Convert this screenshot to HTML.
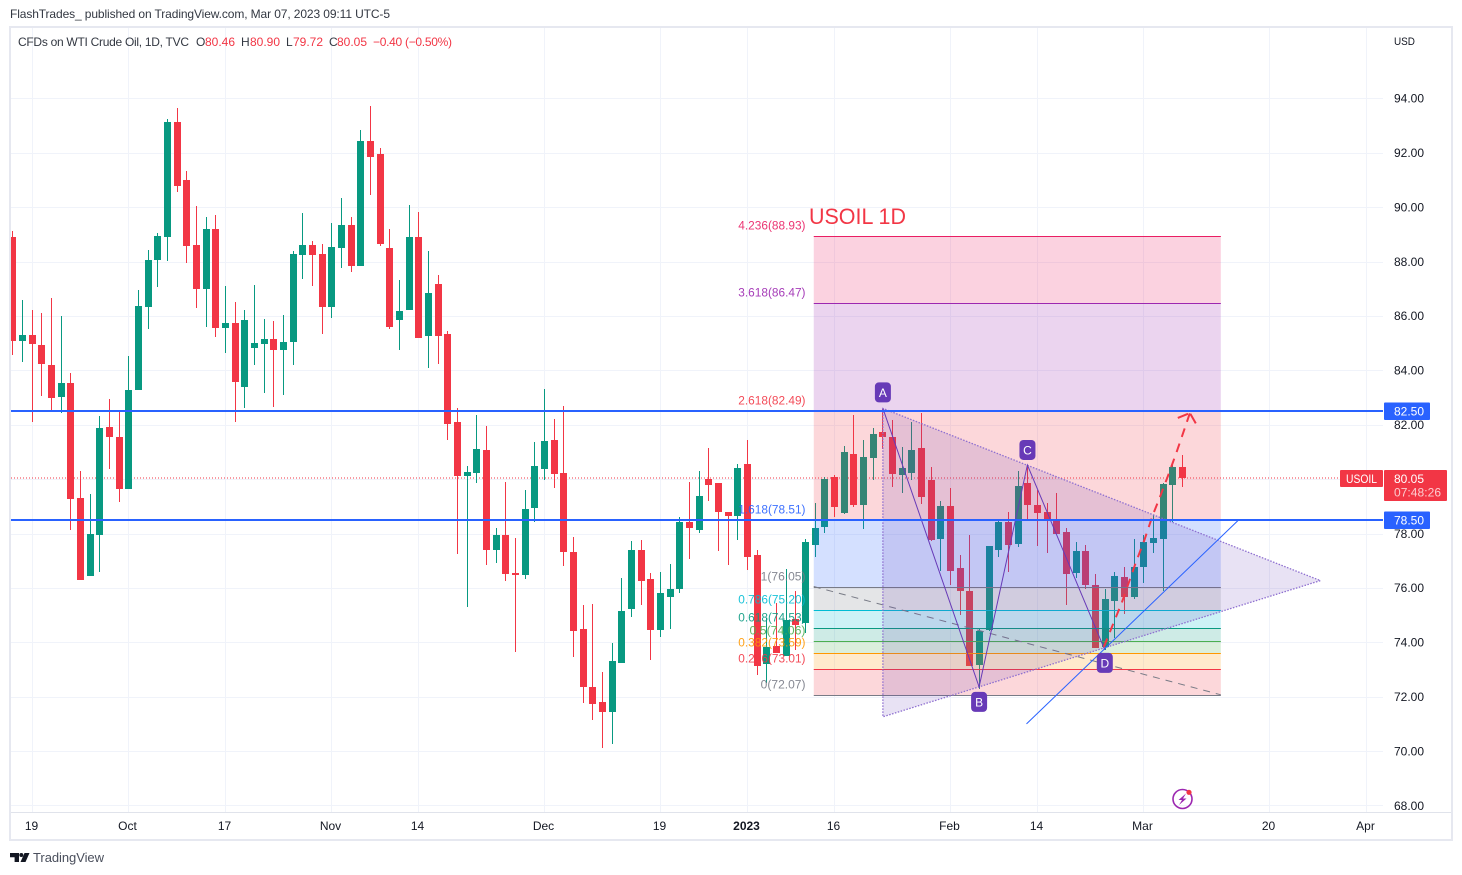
<!DOCTYPE html>
<html lang="en">
<head>
<meta charset="utf-8">
<title>USOIL 1D chart</title>
<style>
html,body{margin:0;padding:0;background:#fff;width:1462px;height:875px;overflow:hidden}
svg{position:absolute;left:0;top:0;display:block}
text{font-family:"Liberation Sans",sans-serif}
</style>
</head>
<body>
<svg id="chart" width="1462" height="875" viewBox="0 0 1462 875" xmlns="http://www.w3.org/2000/svg">
  <defs><clipPath id="plot-clip"><rect x="11" y="28" width="1372" height="784"/></clipPath></defs>
  <rect x="0" y="0" width="1462" height="875" fill="#ffffff"/>
  <text x="10" y="18" font-size="12" fill="#333842" textLength="380" lengthAdjust="spacing">FlashTrades_ published on TradingView.com, Mar 07, 2023 09:11 UTC-5</text>
  <g id="grid"></g>
  <g id="plot" clip-path="url(#plot-clip)">
    <g id="candles"></g>
    <g id="fib"></g>
    <g id="pattern"></g>
    <g id="hlines"></g>
  </g>
  <text x="809" y="224" font-size="22" fill="#f23645" textLength="97" lengthAdjust="spacingAndGlyphs">USOIL 1D</text>
  <g id="axis"></g>
  <g id="time"></g>
  <g fill="none" stroke="#e6e8f0" stroke-width="2">
    <rect x="10" y="27" width="1442" height="813"/>
  </g>
  <g font-size="12">
    <text x="18" y="46" fill="#333842" textLength="171" lengthAdjust="spacing">CFDs on WTI Crude Oil, 1D, TVC</text>
    <text x="196" y="46" fill="#333842">O</text>
    <text x="205" y="46" fill="#f23645">80.46</text>
    <text x="241" y="46" fill="#333842">H</text>
    <text x="250" y="46" fill="#f23645">80.90</text>
    <text x="286" y="46" fill="#333842">L</text>
    <text x="293" y="46" fill="#f23645">79.72</text>
    <text x="329" y="46" fill="#333842">C</text>
    <text x="337" y="46" fill="#f23645">80.05</text>
    <text x="373" y="46" fill="#f23645" textLength="79" lengthAdjust="spacing">−0.40 (−0.50%)</text>
  </g>
  <text x="1394" y="45" font-size="11" fill="#131722" textLength="21" lengthAdjust="spacingAndGlyphs">USD</text>
  <g>
    <circle cx="1182.5" cy="799" r="9.5" fill="none" stroke="#9c27b0" stroke-width="1.6"/>
    <path d="M1186 793.5l-7.5 6.5h3.5l-3 5 7.5-6.5h-3.5z" fill="#9c27b0"/>
    <circle cx="1189" cy="792.3" r="2.6" fill="#f23645"/>
  </g>
  <g>
    <path d="M10 853h9v9h-4.4v-4.8H10z" fill="#131722"/>
    <circle cx="21.3" cy="855" r="2" fill="#131722"/>
    <path d="M24.5 853h5l-4 9h-5z" fill="#131722"/>
    <text x="33" y="862" font-size="13" fill="#4a4f5c" textLength="71" lengthAdjust="spacing">TradingView</text>
  </g>
</svg>
<script>
var opens=[88.90,85.08,85.30,84.93,84.20,83.02,83.53,79.30,76.44,77.94,81.91,81.55,79.64,83.28,86.33,88.06,88.90,93.13,91.00,88.61,86.99,89.19,85.55,85.74,83.39,84.82,84.97,85.15,84.75,85.04,88.24,88.61,88.28,86.33,88.50,89.34,87.83,92.43,91.95,88.50,85.85,86.22,88.90,85.26,87.17,85.33,82.10,80.11,80.22,81.07,77.39,77.94,76.55,76.47,78.94,80.37,81.44,80.22,77.32,74.49,72.36,71.80,71.44,73.24,75.23,77.39,76.33,74.45,75.67,75.96,78.42,78.13,80.00,79.86,78.79,78.64,80.55,77.21,73.20,73.86,73.49,74.86,74.71,77.58,78.24,80.08,78.75,80.92,79.05,80.78,81.73,81.55,80.15,80.22,81.14,79.97,77.80,79.01,76.73,75.90,73.17,74.45,77.39,78.42,77.61,79.86,79.05,78.79,78.50,78.05,76.55,77.36,76.11,73.83,75.52,76.40,75.67,76.77,77.65,77.80,79.78,80.46];
var highs=[89.12,86.58,86.22,86.11,86.66,86.00,83.90,80.30,79.45,82.32,82.94,82.47,84.53,86.95,88.42,89.05,93.24,93.64,91.33,90.04,89.64,89.71,87.10,86.51,86.22,87.14,85.89,85.81,86.03,88.39,89.78,88.75,88.64,89.42,90.33,89.64,92.83,93.72,92.17,89.19,87.32,90.08,89.82,88.40,87.50,85.44,82.61,80.48,82.36,81.95,78.20,79.89,77.83,79.60,81.36,83.31,82.21,82.69,77.87,75.37,75.41,72.91,73.97,76.36,77.73,77.76,76.55,76.59,76.88,78.61,79.89,80.30,81.14,79.86,78.79,80.55,81.44,77.39,74.88,75.45,76.68,75.88,77.80,79.12,80.08,80.15,81.22,82.36,81.44,81.88,82.58,82.17,81.18,82.10,82.43,80.44,79.19,79.67,77.21,77.94,74.49,77.54,78.46,78.79,80.30,80.52,79.60,79.12,79.49,78.20,77.69,77.58,76.51,75.96,76.58,76.77,77.80,77.95,78.68,79.86,80.59,80.90];
var lows=[84.56,84.30,82.10,83.05,82.54,82.43,78.13,76.29,76.44,76.58,80.37,79.16,79.64,83.28,85.52,87.06,88.02,90.55,87.95,86.29,85.59,85.22,84.64,82.10,82.61,84.20,83.17,82.65,83.09,84.20,87.36,87.10,85.33,85.92,87.76,87.61,87.83,90.44,88.57,85.52,84.75,86.22,85.19,84.10,84.23,81.44,77.25,75.30,79.86,76.84,76.92,76.25,73.64,76.33,78.42,79.97,79.67,76.81,73.46,71.77,71.14,70.12,70.26,73.24,74.93,75.37,73.35,74.20,74.49,75.81,77.06,78.02,79.19,77.36,76.84,77.76,76.66,72.80,72.50,73.61,73.49,73.72,74.33,77.14,78.02,78.61,78.72,78.97,78.17,79.97,81.10,79.71,79.49,79.97,79.08,77.72,76.62,76.11,75.00,73.13,72.28,74.42,77.14,76.58,77.50,78.50,77.54,77.28,77.98,75.37,76.36,75.96,73.79,73.72,74.16,75.04,75.59,76.18,77.28,75.89,78.42,79.72];
var closes=[85.08,85.30,84.97,84.23,82.98,83.53,79.27,76.29,77.98,81.88,81.55,79.64,83.28,86.36,88.06,88.94,93.13,90.78,88.57,86.99,89.19,85.55,85.74,83.57,85.85,85.00,85.15,84.75,85.04,88.28,88.61,88.24,86.33,88.53,89.34,87.83,92.43,91.84,88.64,85.59,86.18,88.90,85.19,86.84,85.26,82.03,80.11,80.26,81.11,77.39,77.94,76.51,76.47,78.90,80.48,81.40,80.19,77.32,74.42,72.36,71.73,71.44,73.31,75.15,77.39,76.25,74.45,75.81,75.96,78.42,78.20,79.38,79.78,78.79,78.64,80.41,77.14,73.13,73.83,73.61,74.82,74.63,77.69,78.20,80.00,78.97,80.99,79.05,80.81,81.66,81.55,80.20,80.41,81.07,79.34,77.76,79.01,76.62,75.90,73.13,74.42,77.54,78.42,77.58,79.75,79.05,78.75,78.50,77.98,76.51,77.36,76.11,73.79,75.59,76.44,75.67,76.77,77.69,77.83,79.82,80.45,80.05];
var priceTicks=[94,92,90,88,86,84,82,80,78,76,74,72,70,68];
var timeTickBars=[2,12,22,33,42,55,67,76,85,97,106,117,130,140];
var timeTickLabels=["19","Oct","17","Nov","14","Dec","19","2023","16","Feb","14","Mar","20","Apr"];
var fibRatios=["4.236","3.618","2.618","1.618","1","0.786","0.618","0.5","0.382","0.236","0"];
var fibPrices=[88.93,86.47,82.49,78.51,76.05,75.20,74.53,74.06,73.59,73.01,72.07];
var fibColors=["#e91e63","#9c27b0","#f23645","#2962ff","#787b86","#00bcd4","#089981","#4caf50","#ff9800","#f23645","#787b86"];
var fibStartBar=82.9;
var fibEndBar=125;
var abcdLabels=["A","B","C","D"];
var abcdBars=[90.05,100,105,113];
var abcdPrices=[82.6,72.36,80.52,73.72];
var triangleBars=[90.05,90.05,135.3];
var trianglePrices=[82.6,71.26,76.27];
var trendBars=[104.9,126.85];
var trendPrices=[71.0,78.5];
var arrowBars=[112.9,114.75,116.2,117.1,117.96,118.7,119.5,120.4,121.1,121.8];
var arrowPrices=[73.83,75.45,76.92,77.76,78.68,79.34,80.08,80.96,81.69,82.43];
var arrowHeadBars=[120.55,121.8,122.5];
var arrowHeadPrices=[82.25,82.43,81.99];
var levelPrices=[82.50,78.50];
var lastPrice=80.05;
var countdown="07:48:26";

var NS="http://www.w3.org/2000/svg";
function xScale(i){return 12.2+9.669*i;}
function yScale(p){return 98.3+(94-p)*27.2;}
function mk(tag,parent,attrs,txt){
  var e=document.createElementNS(NS,tag);
  for(var k in attrs){e.setAttribute(k,attrs[k]);}
  if(txt!==undefined){e.textContent=txt;}
  parent.appendChild(e);
  return e;
}
function pts(bars,prices){
  return bars.map(function(b,i){return xScale(b).toFixed(1)+","+yScale(prices[i]).toFixed(1);}).join(" ");
}
var gridG=document.getElementById("grid");
var candlesG=document.getElementById("candles");
var fibG=document.getElementById("fib");
var patG=document.getElementById("pattern");
var hG=document.getElementById("hlines");
var axisG=document.getElementById("axis");
var timeG=document.getElementById("time");
var el;

priceTicks.forEach(function(p){
  var y=Math.round(yScale(p));
  el=mk("rect",gridG,{x:11,y:y,width:1372,height:1,fill:"#f0f3fa"});
  
  
});
timeTickBars.forEach(function(b){
  var x=Math.round(xScale(b));
  el=mk("rect",gridG,{x:x,y:28,width:1,height:784,fill:"#f0f3fa"});
  
  
});

el=mk("line",candlesG,{x1:11,x2:1340,y1:yScale(lastPrice)+0.2,y2:yScale(lastPrice)+0.2,stroke:"#f23645","stroke-width":1,"stroke-dasharray":"1 2"});



opens.forEach(function(o,i){
  var c=closes[i],up=c>=o,col=up?"#089981":"#f23645";
  var x=Math.round(xScale(i));
  var top=Math.round(yScale(Math.max(o,c)));
  var bot=Math.round(yScale(Math.min(o,c)));
  var hi=Math.round(yScale(highs[i]));
  var lo=Math.round(yScale(lows[i]));
  var g=mk("g",candlesG,{});
  
  
  var w=mk("rect",g,{x:x,y:hi,width:1,height:Math.max(1,lo-hi),fill:col});
  
  
  var b=mk("rect",g,{x:x-3,y:top,width:7,height:Math.max(1,bot-top),fill:col});
  
  
});

var fx0=xScale(fibStartBar),fx1=xScale(fibEndBar);
fibPrices.forEach(function(p,i){
  var y=Math.round(yScale(p));
  if(i<fibPrices.length-1){
    var y2=Math.round(yScale(fibPrices[i+1]));
    el=mk("rect",fibG,{x:fx0,y:y,width:fx1-fx0,height:y2-y,fill:fibColors[i],"fill-opacity":0.2});
    
    
  }
});
fibPrices.forEach(function(p,i){
  var y=Math.round(yScale(p))+0.5;
  el=mk("line",fibG,{x1:fx0,x2:fx1,y1:y,y2:y,stroke:fibColors[i],"stroke-width":1});
  
  
});
el=mk("line",fibG,{x1:fx0,x2:fx1,y1:yScale(fibPrices[4]),y2:yScale(fibPrices[10]),stroke:"#787b86","stroke-width":1,"stroke-dasharray":"7 6"});



el=mk("polygon",patG,{points:pts(triangleBars,trianglePrices),fill:"#673ab7","fill-opacity":0.15,stroke:"#8e6fd0","stroke-width":1.3,"stroke-dasharray":"1.5 1.5"});


el=mk("polyline",patG,{points:pts(abcdBars,abcdPrices),fill:"none",stroke:"#673ab7","stroke-width":1});


el=mk("polyline",patG,{points:pts(trendBars,trendPrices),fill:"none",stroke:"#2962ff","stroke-width":1});


el=mk("polyline",patG,{points:pts(arrowBars,arrowPrices),fill:"none",stroke:"#f23645","stroke-width":2,"stroke-dasharray":"9 7"});


el=mk("polyline",patG,{points:pts(arrowHeadBars,arrowHeadPrices),fill:"none",stroke:"#f23645","stroke-width":2,"stroke-dasharray":"11 3"});



levelPrices.forEach(function(p){
  var y=Math.round(yScale(p))-1;
  el=mk("rect",hG,{x:11,y:y,width:1372,height:2,fill:"#2962ff"});
  
  
});

var svg=document.getElementById("chart");
var labG=mk("g",svg,{});


fibRatios.forEach(function(r,i){
  var y=Math.round(yScale(fibPrices[i]));
  el=mk("text",labG,{x:805.5,y:y-6.5,"text-anchor":"end","font-size":11.5,fill:fibColors[i],"fill-opacity":0.9,textLength:(r.length+7)*5.6,lengthAdjust:"spacingAndGlyphs"},r+"("+fibPrices[i].toFixed(2)+")");
  
  
});
var labelOffsets=[-16,15,-15,13];
abcdLabels.forEach(function(l,i){
  var cx=xScale(abcdBars[i]),cy=yScale(abcdPrices[i])+labelOffsets[i];
  el=mk("rect",labG,{x:cx-8,y:cy-10,width:16,height:20,rx:4,fill:"#673ab7"});
  
  
  el=mk("text",labG,{x:cx,y:cy+4.5,"text-anchor":"middle","font-size":12,fill:"#ffffff"},l);
  
  
});

el=mk("rect",axisG,{x:1383,y:28,width:68,height:784,fill:"#ffffff"});


priceTicks.forEach(function(p){
  el=mk("text",axisG,{x:1394,y:yScale(p)+4.3,"font-size":12,fill:"#131722"},p.toFixed(2));
  
  
});
levelPrices.forEach(function(p){
  var y=Math.round(yScale(p));
  el=mk("rect",axisG,{x:1384,y:y-8.5,width:46,height:17.5,rx:1,fill:"#2962ff"});
  
  
  el=mk("text",axisG,{x:1394,y:y+4.5,"font-size":12,fill:"#ffffff"},p.toFixed(2));
  
  
});
var ly=Math.round(yScale(lastPrice));
el=mk("rect",axisG,{x:1340,y:ly-8,width:43,height:17,rx:1,fill:"#f23645"});


el=mk("text",axisG,{x:1346,y:ly+5,"font-size":12,fill:"#ffffff",textLength:31,lengthAdjust:"spacingAndGlyphs"},"USOIL");


el=mk("rect",axisG,{x:1384,y:ly-8,width:63,height:31,rx:1,fill:"#f23645"});


el=mk("text",axisG,{x:1394,y:ly+5,"font-size":12,fill:"#ffffff"},lastPrice.toFixed(2));


el=mk("text",axisG,{x:1394,y:ly+18.5,"font-size":12,fill:"#ffffff","fill-opacity":0.75,textLength:47},countdown);



el=mk("rect",timeG,{x:11,y:812,width:1440,height:1,fill:"#e0e3eb"});


timeTickBars.forEach(function(b,i){
  var bold=timeTickLabels[i]==="2023";
  el=mk("text",timeG,{x:Math.round(xScale(b))-0.5,y:830,"text-anchor":"middle","font-size":12,"font-weight":bold?"bold":"normal",fill:"#131722"},timeTickLabels[i]);
  
  
});
</script>
</body>
</html>
